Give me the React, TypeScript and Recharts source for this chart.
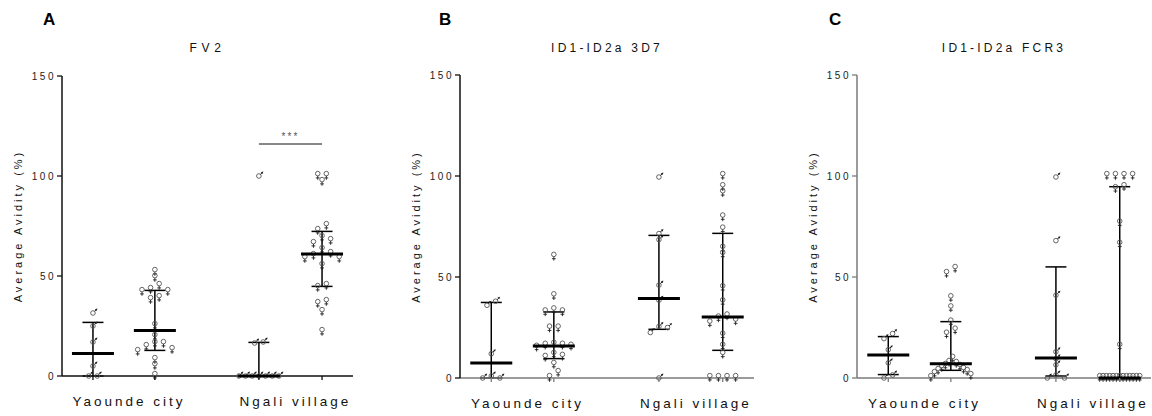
import React from 'react';
import { ScatterChart, Scatter, XAxis, YAxis, ErrorBar, ReferenceLine } from 'recharts';

const FONT = '"Liberation Sans", Arial, Helvetica, sans-serif';
const CHART_W = 384;
const CHART_H = 416;

// Column order in every panel: Yaounde male, Yaounde female, Ngali male, Ngali female
const groupPositions = [1, 2, 3.68, 4.7];
const groupSexes = ['male', 'female', 'male', 'female'];
const siteLabels = ['Yaounde city', 'Ngali village'];
const xDomain: [number, number] = [0.5, 5.2];
const yDomain: [number, number] = [0, 150];
const yTicks = [0, 50, 100, 150];
const panelLetters = ['A', 'B', 'C'];
const antigenTitles = ['FV2', 'ID1-ID2a 3D7', 'ID1-ID2a FCR3'];
const yAxisTitle = 'Average Avidity (%)';

// FV2
const fv2YaoundeMale = [31.5, 25, 17, 5, 0, 0];
const fv2YaoundeFemale = [52, 49, 45, 43, 42, 42, 39, 38, 25, 19.5, 16, 16, 14.5, 13, 12, 8, 5, 0];
const fv2NgaliMale = [100, 17, 16.5, 0, 0, 0, 0, 0, 0, 0];
const fv2NgaliFemale = [100, 100, 97, 75, 72.5, 69, 67.5, 66, 63, 61, 60, 58.5, 58.5, 55, 45, 44, 37, 36, 32, 22];
const fv2Medians = [11.2, 22.7, 0, 61];
const fv2LowerQuartiles = [0, 12.8, 0, 44.8];
const fv2UpperQuartiles = [26.8, 42.8, 16.8, 72.3];

// ID1-ID2a 3D7
const d7YaoundeMale = [38, 36, 12, 1, 0, 0];
const d7YaoundeFemale = [60, 40.5, 33.5, 32.5, 32.5, 24.5, 24.5, 16.5, 16, 16, 15.5, 15, 11.5, 10.5, 10, 6.5, 2.5, 0];
const d7NgaliMale = [99.5, 71.5, 68.5, 46, 38.5, 25.5, 25, 22.5, 0];
const d7NgaliFemale = [100, 94.5, 91.5, 79.5, 73.5, 64, 61, 44.5, 37.5, 30.5, 29.5, 28, 27, 21, 15.5, 11.5, 0, 0, 0, 0];
const d7Medians = [7.4, 15.9, 39.3, 30.2];
const d7LowerQuartiles = [0, 9.6, 24.1, 13.7];
const d7UpperQuartiles = [37.4, 32.7, 70.6, 71.6];

// ID1-ID2a FCR3
const fcr3YaoundeMale = [22, 19.5, 14, 7.5, 1.5, 0];
const fcr3YaoundeFemale = [54, 51.5, 39.5, 34.5, 27.5, 23.5, 21.5, 9.5, 7.5, 7, 6, 5.5, 5, 4, 3.5, 3, 2, 1, 0];
const fcr3NgaliMale = [99.5, 68, 41, 13, 9.5, 6.5, 1.5, 0, 0];
const fcr3NgaliFemale = [100, 100, 100, 100, 94.5, 93.5, 76.5, 66, 15.5, 0, 0, 0, 0, 0, 0, 0, 0, 0, 0, 0, 0, 0];
const fcr3Medians = [11.4, 7.1, 9.9, 0];
const fcr3LowerQuartiles = [1.7, 3.8, 1, 0];
const fcr3UpperQuartiles = [20.5, 27.9, 55, 94.7];

// FV2 Ngali male vs female comparison
const fv2SignificanceGroups = [2, 3];
const fv2SignificanceLevel = 116;
const fv2SignificanceText = '***';

// Horizontal spreading of overlapping symbols (pixels)
const ROW_GAP_PX = 6;
const SLOT_PX = 8.6;
const MAX_SPREAD_PX = 40;

type Pt = { x: number; y: number };

function spreadGroup(values: number[], center: number, pxPerX: number, pxPerY: number): Pt[] {
  const sorted = [...values].sort((a, b) => b - a);
  const rows: number[][] = [];
  sorted.forEach((v, i) => {
    if (i > 0 && (sorted[i - 1] - v) * pxPerY < ROW_GAP_PX) rows[rows.length - 1].push(v);
    else rows.push([v]);
  });
  const pts: Pt[] = [];
  rows.forEach((row) => {
    const n = row.length;
    const gap = n > 1 ? Math.min(SLOT_PX, MAX_SPREAD_PX / (n - 1)) : 0;
    const slots = row
      .map((_, k) => (k - (n - 1) / 2) * gap)
      .sort((a, b) => Math.abs(a) - Math.abs(b) || b - a);
    row.forEach((v, k) => pts.push({ x: center + slots[k] / pxPerX, y: v }));
  });
  return pts;
}

const CIRCLE_STROKE = '#555';
const MARK_STROKE = '#1e1e1e';

function FemaleGlyph(props: any) {
  const { cx, cy } = props;
  if (cx == null || cy == null) return null;
  return (
    <g>
      <circle cx={cx} cy={cy - 2.4} r={2.3} fill="none" stroke={CIRCLE_STROKE} strokeWidth={0.9} />
      <line x1={cx} y1={cy - 0.1} x2={cx} y2={cy + 3.8} stroke={MARK_STROKE} strokeWidth={0.9} />
      <line x1={cx - 1.9} y1={cy + 1.9} x2={cx + 1.9} y2={cy + 1.9} stroke={MARK_STROKE} strokeWidth={0.9} />
    </g>
  );
}

function MaleGlyph(props: any) {
  const { cx, cy } = props;
  if (cx == null || cy == null) return null;
  return (
    <g>
      <circle cx={cx} cy={cy} r={2.3} fill="none" stroke={CIRCLE_STROKE} strokeWidth={0.9} />
      <line x1={cx + 1.6} y1={cy - 1.6} x2={cx + 3.3} y2={cy - 3.3} stroke={MARK_STROKE} strokeWidth={1} />
      <polygon
        points={`${cx + 4.5},${cy - 4.5} ${cx + 3.7},${cy - 1.9} ${cx + 1.9},${cy - 3.7}`}
        fill={MARK_STROKE}
      />
    </g>
  );
}

function MedianBar(props: any) {
  const { cx, cy } = props;
  if (cx == null || cy == null) return null;
  return <line x1={cx - 21} x2={cx + 21} y1={cy} y2={cy} stroke="#000" strokeWidth={3} />;
}

type PanelCfg = {
  letter: string;
  title: string;
  titleSpacing: number;
  letterX: number;
  groups: number[][];
  medians: number[];
  q1: number[];
  q3: number[];
  left: number;
  axisX: number;
  right: number;
  top: number;
  xAxisH: number;
  yColor: string;
  xColor: string;
  significance?: { groups: number[]; level: number; text: string };
};

const panels: PanelCfg[] = [
  {
    letter: panelLetters[0],
    title: antigenTitles[0],
    titleSpacing: 4.6,
    letterX: 43,
    groups: [fv2YaoundeMale, fv2YaoundeFemale, fv2NgaliMale, fv2NgaliFemale],
    medians: fv2Medians,
    q1: fv2LowerQuartiles,
    q3: fv2UpperQuartiles,
    left: 0,
    axisX: 62,
    right: 31,
    top: 76,
    xAxisH: 40,
    yColor: '#111',
    xColor: '#111',
    significance: { groups: fv2SignificanceGroups, level: fv2SignificanceLevel, text: fv2SignificanceText },
  },
  {
    letter: panelLetters[1],
    title: antigenTitles[1],
    titleSpacing: 3.2,
    letterX: 55,
    groups: [d7YaoundeMale, d7YaoundeFemale, d7NgaliMale, d7NgaliFemale],
    medians: d7Medians,
    q1: d7LowerQuartiles,
    q3: d7UpperQuartiles,
    left: 384,
    axisX: 76,
    right: 14,
    top: 75,
    xAxisH: 38,
    yColor: '#111',
    xColor: '#7a7a7a',
  },
  {
    letter: panelLetters[2],
    title: antigenTitles[2],
    titleSpacing: 3.2,
    letterX: 61,
    groups: [fcr3YaoundeMale, fcr3YaoundeFemale, fcr3NgaliMale, fcr3NgaliFemale],
    medians: fcr3Medians,
    q1: fcr3LowerQuartiles,
    q3: fcr3UpperQuartiles,
    left: 768,
    axisX: 89,
    right: 1,
    top: 75,
    xAxisH: 38,
    yColor: '#7a7a7a',
    xColor: '#7a7a7a',
  },
];

const siteLabelPositions = [
  (groupPositions[0] + groupPositions[1]) / 2,
  (groupPositions[2] + groupPositions[3]) / 2,
];
const xTicks = [...groupPositions, ...siteLabelPositions].sort((a, b) => a - b);

function Panel({ cfg }: { cfg: PanelCfg }) {
  const plotW = CHART_W - cfg.axisX - cfg.right;
  const plotH = CHART_H - cfg.top - cfg.xAxisH;
  const axisY = cfg.top + plotH;
  const pxPerX = plotW / (xDomain[1] - xDomain[0]);
  const pxPerY = plotH / (yDomain[1] - yDomain[0]);

  const males: Pt[] = [];
  const females: Pt[] = [];
  cfg.groups.forEach((vals, g) => {
    const pts = spreadGroup(vals, groupPositions[g], pxPerX, pxPerY);
    (groupSexes[g] === 'male' ? males : females).push(...pts);
  });

  const summary = groupPositions.map((x, i) => ({
    x,
    y: cfg.medians[i],
    err: [cfg.medians[i] - cfg.q1[i], cfg.q3[i] - cfg.medians[i]],
  }));

  const XTick = (p: any) => {
    const v = p.payload?.value;
    const x = p.x;
    const labelIdx = siteLabelPositions.indexOf(v);
    if (labelIdx >= 0) {
      return (
        <text
          x={x + 5}
          y={axisY + 30}
          textAnchor="middle"
          fontFamily={FONT}
          fontSize={13.5}
          letterSpacing={3}
          fill="#111"
        >
          {siteLabels[labelIdx]}
        </text>
      );
    }
    return <line x1={x} x2={x} y1={axisY} y2={axisY + 4} stroke={cfg.xColor} strokeWidth={1.3} />;
  };

  const YTick = (p: any) => {
    const y = p.y;
    return (
      <g>
        <line x1={cfg.axisX - 5} x2={cfg.axisX} y1={y} y2={y} stroke={cfg.yColor} strokeWidth={1.3} />
        <text
          x={cfg.axisX - 6}
          y={y}
          dy="0.35em"
          textAnchor="end"
          fontFamily={FONT}
          fontSize={10}
          letterSpacing={2.5}
          fill="#222"
        >
          {p.payload?.value}
        </text>
      </g>
    );
  };

  const plotCenterX = cfg.axisX + plotW / 2;
  const plotCenterY = cfg.top + plotH / 2;
  const labelX = cfg.axisX - 44;

  return (
    <div style={{ position: 'absolute', left: cfg.left, top: 0, width: CHART_W, height: CHART_H }}>
      <ScatterChart
        width={CHART_W}
        height={CHART_H}
        margin={{ top: cfg.top, right: cfg.right, bottom: 0, left: 0 }}
      >
        <XAxis
          type="number"
          dataKey="x"
          domain={xDomain}
          ticks={xTicks}
          interval={0}
          tickLine={false}
          tick={XTick}
          axisLine={{ stroke: cfg.xColor, strokeWidth: 1.5 }}
          height={cfg.xAxisH}
        />
        <YAxis
          type="number"
          dataKey="y"
          domain={yDomain}
          ticks={yTicks}
          interval={0}
          tickLine={false}
          tick={YTick}
          axisLine={{ stroke: cfg.yColor, strokeWidth: 1.5 }}
          width={cfg.axisX}
        />
        <Scatter data={males} shape={MaleGlyph} isAnimationActive={false} />
        <Scatter data={females} shape={FemaleGlyph} isAnimationActive={false} />
        <Scatter data={summary} shape={MedianBar} isAnimationActive={false}>
          <ErrorBar dataKey="err" direction="y" width={10.5} strokeWidth={1.5} stroke="#000" />
        </Scatter>
        {cfg.significance && (
          <ReferenceLine
            segment={[
              { x: groupPositions[cfg.significance.groups[0]], y: cfg.significance.level },
              { x: groupPositions[cfg.significance.groups[1]], y: cfg.significance.level },
            ]}
            stroke="#111"
            strokeWidth={1}
            label={{
              value: cfg.significance.text,
              position: 'top',
              offset: 4,
              fill: '#555',
              fontSize: 10,
              fontFamily: FONT,
              letterSpacing: 2,
            }}
          />
        )}
      </ScatterChart>
      <svg
        width={CHART_W}
        height={CHART_H}
        style={{ position: 'absolute', left: 0, top: 0, pointerEvents: 'none' }}
      >
        <text x={cfg.letterX} y={25} fontFamily={FONT} fontSize={17} fontWeight="bold" fill="#000">
          {cfg.letter}
        </text>
        <text
          x={plotCenterX}
          y={52}
          textAnchor="middle"
          fontFamily={FONT}
          fontSize={12}
          letterSpacing={cfg.titleSpacing}
          fill="#111"
        >
          {cfg.title}
        </text>
        <text
          x={labelX}
          y={plotCenterY}
          transform={`rotate(-90 ${labelX} ${plotCenterY})`}
          textAnchor="middle"
          dominantBaseline="central"
          fontFamily={FONT}
          fontSize={11}
          letterSpacing={3}
          fill="#111"
        >
          {yAxisTitle}
        </text>
      </svg>
    </div>
  );
}

export default function App() {
  return (
    <div
      style={{
        position: 'fixed',
        left: 0,
        top: 0,
        width: 1152,
        height: 416,
        background: '#fff',
        overflow: 'hidden',
      }}
    >
      {panels.map((cfg) => (
        <Panel key={cfg.letter} cfg={cfg} />
      ))}
    </div>
  );
}
